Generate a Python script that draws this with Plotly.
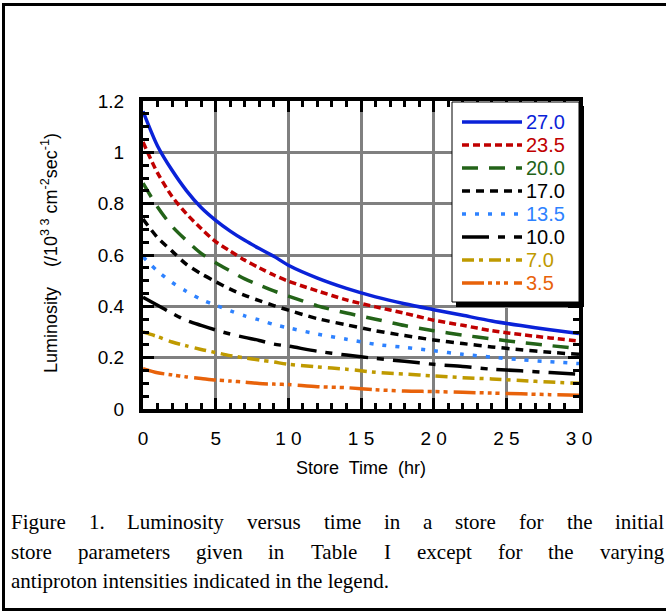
import plotly.graph_objects as go

# Store time (hr) sample points
store_time = [0, 1, 2, 3, 4, 5, 6, 7, 8, 9, 10, 12, 14, 16, 18, 20, 22, 24, 26, 28, 30]

# Initial antiproton intensities (legend labels)
intensities = ["27.0", "23.5", "20.0", "17.0", "13.5", "10.0", "7.0", "3.5"]

# Luminosity (/10^33 cm^-2 sec^-1) for each initial intensity
lum_27_0 = [1.16, 1.025, 0.93, 0.85, 0.785, 0.735, 0.693, 0.657, 0.625, 0.595, 0.56,
            0.51, 0.47, 0.437, 0.41, 0.387, 0.365, 0.343, 0.325, 0.309, 0.294]
lum_23_5 = [1.04, 0.92, 0.828, 0.76, 0.703, 0.652, 0.615, 0.58, 0.55, 0.522, 0.498,
            0.46, 0.425, 0.398, 0.373, 0.346, 0.326, 0.305, 0.29, 0.277, 0.265]
lum_20_0 = [0.88, 0.787, 0.712, 0.656, 0.606, 0.57, 0.538, 0.507, 0.483, 0.46, 0.44,
            0.402, 0.374, 0.35, 0.325, 0.305, 0.288, 0.273, 0.259, 0.247, 0.235]
lum_17_0 = [0.74, 0.668, 0.615, 0.563, 0.527, 0.496, 0.467, 0.443, 0.422, 0.403, 0.385,
            0.352, 0.328, 0.305, 0.286, 0.269, 0.255, 0.242, 0.231, 0.221, 0.213]
lum_13_5 = [0.593, 0.537, 0.493, 0.458, 0.427, 0.404, 0.383, 0.363, 0.347, 0.329, 0.316,
            0.292, 0.272, 0.252, 0.24, 0.227, 0.213, 0.202, 0.192, 0.184, 0.177]
lum_10_0 = [0.435, 0.404, 0.373, 0.345, 0.326, 0.308, 0.292, 0.279, 0.267, 0.253, 0.245,
            0.225, 0.21, 0.197, 0.186, 0.174, 0.166, 0.155, 0.149, 0.142, 0.135]
lum_7_0 = [0.30, 0.282, 0.261, 0.246, 0.232, 0.22, 0.208, 0.199, 0.191, 0.183, 0.174,
           0.164, 0.155, 0.143, 0.136, 0.129, 0.122, 0.117, 0.111, 0.105, 0.100]
lum_3_5 = [0.157, 0.141, 0.133, 0.125, 0.119, 0.113, 0.109, 0.105, 0.099, 0.097, 0.095,
           0.087, 0.083, 0.075, 0.07, 0.068, 0.065, 0.062, 0.059, 0.056, 0.054]

x_tickvals = [0, 5, 10, 15, 20, 25, 30]
x_ticktext = ["0", "5", "1 0", "1 5", "2 0", "2 5", "3 0"]
y_tickvals = [0, 0.2, 0.4, 0.6, 0.8, 1.0, 1.2]
y_ticktext = ["0", "0.2", "0.4", "0.6", "0.8", "1", "1.2"]

series = [lum_27_0, lum_23_5, lum_20_0, lum_17_0, lum_13_5, lum_10_0, lum_7_0, lum_3_5]
colors = ["#0a22d8", "#c00000", "#236318", "#000000", "#2e82ff", "#000000", "#bf9a00", "#e8620a"]
dashes = ["solid", "7px,4px", "16px,11px", "8px,6px", "4px,9px",
          "27px,9px,7px,9px", "12px,5px,4px,6px", "22px,4px,4px,4px,4px,4px,4px,6px"]
widths = [3.5, 3.5, 3.5, 3.5, 3.5, 3.5, 3.5, 3.5]

W, H = 666, 614
L_PX, R_PX, T_PX, B_PX = 143, 579, 101, 409


def px(x):
    return (x - L_PX) / (R_PX - L_PX)


def py(y):
    return (B_PX - y) / (B_PX - T_PX)


SANS = "Liberation Sans, Arial, sans-serif"
SERIF = "Liberation Serif, Times New Roman, serif"

fig = go.Figure()
for name, vals, c, d, w in zip(intensities, series, colors, dashes, widths):
    fig.add_trace(go.Scatter(
        x=store_time, y=vals, mode="lines", name=name,
        line=dict(color=c, dash=d, width=w, shape="spline", smoothing=0.8),
        showlegend=False, cliponaxis=False,
    ))

axis_common = dict(
    showgrid=True, gridcolor="#808080", gridwidth=3,
    ticks="inside", ticklen=11, tickwidth=3, tickcolor="black",
    showline=True, linewidth=4, linecolor="black", mirror="allticks",
    zeroline=False, tickfont=dict(family=SANS, size=19, color="black"),
)

fig.update_xaxes(
    range=[0, 30], tickmode="array", tickvals=x_tickvals, ticktext=x_ticktext,
    minor=dict(tickmode="array", tickvals=list(range(0, 31)), ticks="inside",
               ticklen=6, tickwidth=3, tickcolor="black", showgrid=False),
    ticklabelstandoff=9,
    **axis_common,
)
fig.update_yaxes(
    range=[0, 1.2], tickmode="array", tickvals=y_tickvals, ticktext=y_ticktext,
    minor=dict(tickmode="array", tickvals=[i * 0.05 for i in range(25)], ticks="inside",
               ticklen=6, tickwidth=3, tickcolor="black", showgrid=False),
    ticklabelstandoff=11,
    **axis_common,
)

shapes = []
annotations = []

# outer figure frame (left, top, bottom)
frame = dict(type="line", xref="paper", yref="paper", line=dict(color="black", width=3), layer="above")
shapes.append(dict(frame, x0=px(3.5), x1=px(3.5), y0=py(4), y1=py(610)))
shapes.append(dict(frame, x0=px(2), x1=px(670), y0=py(4.5), y1=py(4.5)))
shapes.append(dict(frame, x0=px(2), x1=px(670), y0=py(609.5), y1=py(609.5)))

# legend box with drop shadow
lx0, lx1, ly0, ly1 = 452, 579, 102, 302
shapes.append(dict(type="rect", xref="paper", yref="paper", layer="above",
                   x0=px(lx0 + 4), x1=px(lx1 + 5), y0=py(ly0 + 4), y1=py(ly1 + 5),
                   fillcolor="black", line=dict(width=0)))
shapes.append(dict(type="rect", xref="paper", yref="paper", layer="above",
                   x0=px(lx0), x1=px(lx1), y0=py(ly0), y1=py(ly1),
                   fillcolor="white", line=dict(color="black", width=1)))
for i, (name, c, d) in enumerate(zip(intensities, colors, dashes)):
    yc = 122 + 23 * i
    shapes.append(dict(type="line", xref="paper", yref="paper", layer="above",
                       x0=px(462), x1=px(522), y0=py(yc), y1=py(yc),
                       line=dict(color=c, dash=d, width=3.5)))
    annotations.append(dict(xref="paper", yref="paper", x=px(524), y=py(yc),
                            xanchor="left", yanchor="middle", showarrow=False,
                            text=name, font=dict(family=SANS, size=20, color=c)))

# axis titles
annotations.append(dict(xref="paper", yref="paper", x=px(361), y=py(468),
                        xanchor="center", yanchor="middle", showarrow=False,
                        text="Store\u00a0 Time\u00a0 (hr)",
                        font=dict(family=SANS, size=18, color="black")))
annotations.append(dict(xref="paper", yref="paper", x=px(49), y=py(253),
                        xanchor="center", yanchor="middle", showarrow=False, textangle=-90,
                        text="Luminosity\u00a0\u00a0\u00a0 (/10<sup>3 3</sup> cm<sup>-2</sup>sec<sup>-1</sup>)",
                        font=dict(family=SANS, size=18, color="black")))

# caption, justified word by word on the first two lines
caption_lines = [
    (522, [("Figure", 10), ("1.", 87.7), ("Luminosity", 126.4), ("versus", 246.1),
           ("time", 322.7), ("in", 382.9), ("a", 422.2), ("store", 454.4), ("for", 518.1),
           ("the", 565.5), ("initial", 614.0)]),
    (552, [("store", 10), ("parameters", 76.7), ("given", 194.8), ("in", 267.3),
           ("Table", 309.6), ("I", 383.3), ("except", 416.2), ("for", 496.9),
           ("the", 547.3), ("varying", 598.8)]),
    (581, [("antiproton intensities indicated in the legend.", 10)]),
]
for yc, words in caption_lines:
    for word, xl in words:
        annotations.append(dict(xref="paper", yref="paper", x=px(xl), y=py(yc),
                                xanchor="left", yanchor="middle", showarrow=False,
                                text=word, borderpad=0,
                                font=dict(family=SERIF, size=21, color="black")))

fig.update_layout(
    width=W, height=H, autosize=False,
    margin=dict(l=L_PX, r=W - R_PX, t=T_PX, b=H - B_PX, pad=0),
    paper_bgcolor="white", plot_bgcolor="white",
    shapes=shapes, annotations=annotations, showlegend=False,
)

fig.write_html("out.html", include_plotlyjs=True)
